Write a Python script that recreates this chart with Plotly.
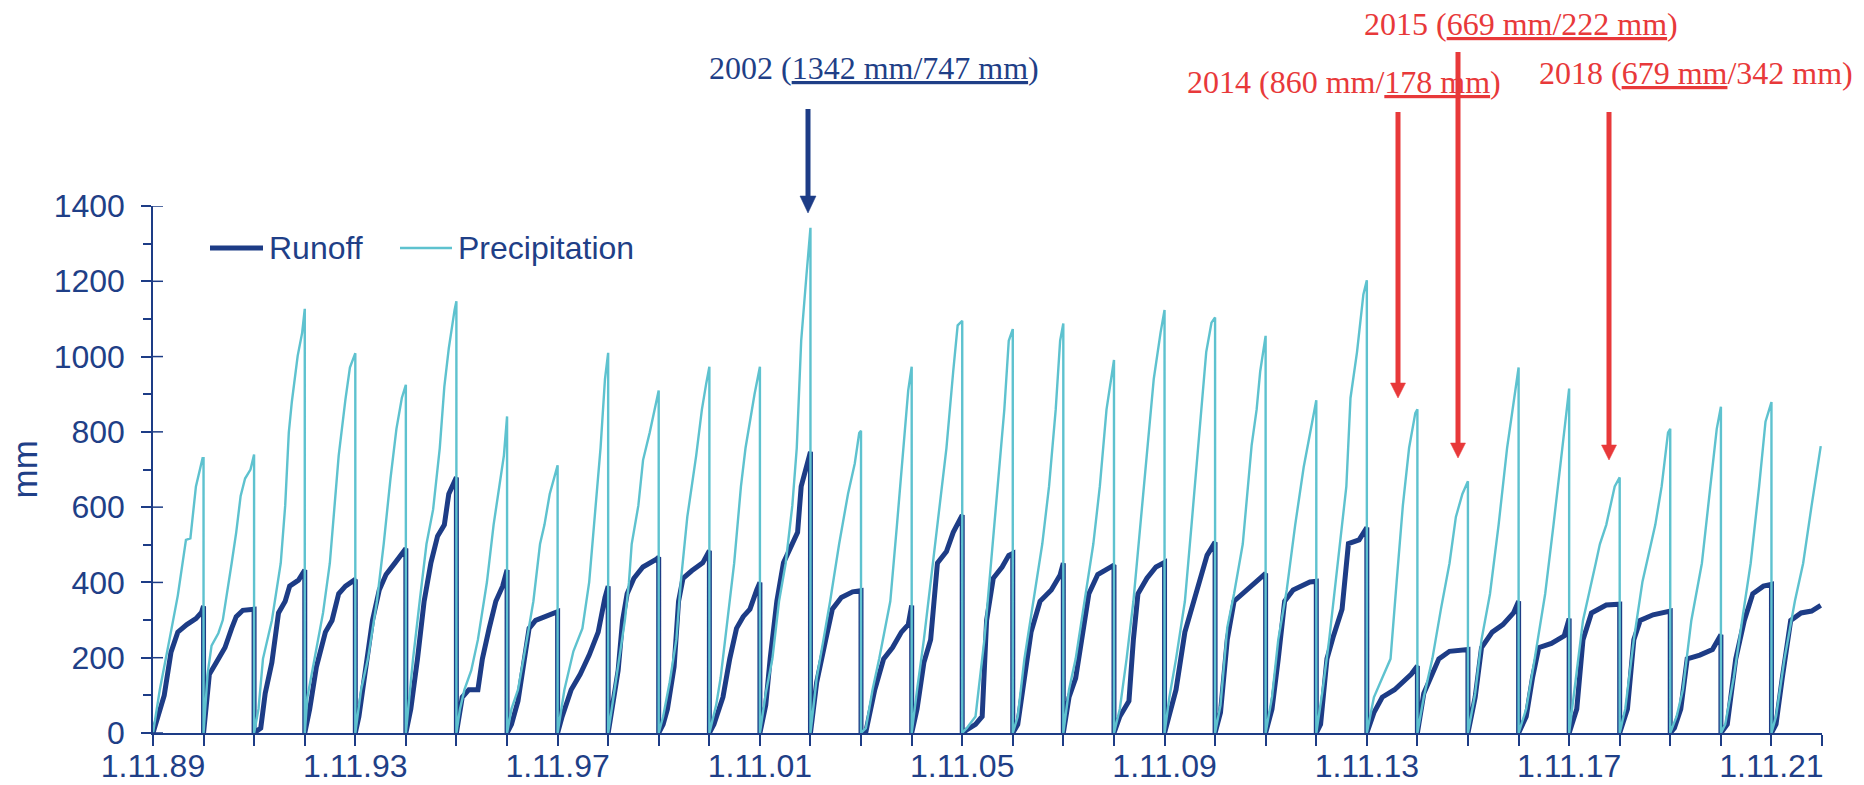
import datetime as dt
import plotly.graph_objects as go

# Hydrological years (1 Nov of the start year to 1 Nov of the next year)
HYDRO_YEARS = list(range(1989, 2022))

# Cumulative precipitation per hydrological year: [day since 1 Nov, mm]
precip_pts = [
    [[0, 0], [49, 115], [124, 258], [179, 365], [238, 513], [270, 517], [310, 655], [336, 696], [358, 730], [365, 730]],
    [[0, 0], [30, 160], [58, 232], [107, 265], [139, 300], [203, 451], [236, 533], [268, 630], [300, 676], [339, 700], [365, 740]],
    [[0, 0], [32, 64], [64, 197], [128, 299], [192, 451], [224, 604], [250, 798], [272, 880], [314, 1002], [346, 1063], [365, 1127]],
    [[0, 0], [19, 95], [68, 197], [132, 319], [181, 451], [213, 604], [245, 737], [294, 887], [326, 971], [365, 1009]],
    [[0, 0], [42, 115], [91, 197], [156, 350], [205, 502], [254, 676], [297, 808], [336, 890], [365, 925]],
    [[0, 0], [52, 197], [100, 350], [149, 502], [197, 594], [245, 757], [278, 920], [310, 1022], [352, 1124], [365, 1147]],
    [[0, 0], [26, 64], [58, 115], [107, 166], [155, 248], [220, 401], [268, 553], [310, 655], [342, 737], [365, 841]],
    [[0, 0], [32, 64], [79, 115], [143, 248], [190, 350], [238, 502], [270, 553], [308, 635], [349, 690], [365, 711]],
    [[0, 0], [49, 115], [114, 217], [179, 278], [228, 401], [277, 604], [310, 757], [342, 940], [365, 1010]],
    [[0, 0], [60, 146], [121, 300], [150, 400], [170, 502], [218, 604], [252, 725], [300, 798], [345, 870], [365, 910]],
    [[0, 0], [32, 44], [79, 135], [127, 248], [159, 401], [206, 574], [270, 737], [311, 859], [343, 930], [365, 973]],
    [[0, 0], [49, 74], [81, 146], [130, 299], [179, 451], [228, 655], [261, 757], [326, 900], [365, 973]],
    [[0, 0], [42, 105], [90, 197], [138, 350], [186, 451], [234, 604], [266, 757], [298, 1042], [336, 1216], [355, 1287], [365, 1342]],
    [[0, 0], [45, 146], [94, 248], [142, 350], [207, 502], [271, 635], [320, 716], [352, 797], [365, 803]],
    [[0, 0], [35, 13], [83, 115], [131, 197], [211, 350], [259, 553], [307, 757], [340, 910], [365, 973]],
    [[0, 0], [39, 115], [88, 248], [137, 401], [186, 553], [251, 757], [300, 961], [332, 1083], [365, 1095]],
    [[0, 0], [32, 13], [96, 44], [160, 248], [208, 451], [256, 655], [304, 859], [336, 1042], [365, 1073]],
    [[0, 0], [36, 44], [84, 197], [149, 350], [213, 502], [262, 655], [310, 859], [342, 1042], [365, 1088]],
    [[0, 0], [41, 115], [89, 197], [152, 350], [216, 502], [263, 655], [311, 859], [365, 991]],
    [[0, 0], [42, 64], [91, 197], [140, 350], [189, 553], [238, 757], [287, 940], [336, 1063], [365, 1124]],
    [[0, 0], [35, 95], [83, 197], [147, 350], [195, 553], [243, 757], [301, 1012], [339, 1090], [365, 1104]],
    [[0, 0], [39, 74], [88, 280], [137, 370], [200, 502], [264, 764], [300, 859], [326, 961], [365, 1055]],
    [[0, 0], [46, 95], [91, 248], [152, 380], [213, 553], [274, 706], [325, 808], [365, 884]],
    [[0, 0], [46, 115], [93, 248], [155, 451], [217, 655], [247, 890], [294, 1012], [340, 1165], [365, 1203]],
    [[0, 0], [51, 95], [111, 146], [171, 197], [215, 401], [260, 604], [305, 757], [350, 850], [365, 860]],
    [[0, 0], [46, 95], [108, 197], [170, 329], [232, 451], [278, 574], [325, 635], [365, 669]],
    [[0, 0], [52, 105], [98, 248], [159, 370], [221, 553], [282, 757], [343, 910], [365, 971]],
    [[0, 0], [55, 64], [116, 197], [192, 370], [252, 553], [313, 757], [344, 859], [365, 915]],
    [[0, 0], [40, 115], [100, 299], [192, 451], [222, 502], [268, 553], [329, 655], [365, 679]],
    [[0, 0], [40, 64], [102, 248], [164, 401], [257, 553], [303, 655], [349, 798], [365, 808]],
    [[0, 0], [46, 44], [91, 115], [152, 299], [228, 451], [289, 655], [335, 808], [365, 867]],
    [[0, 0], [31, 23], [92, 146], [153, 299], [215, 451], [276, 655], [322, 827], [365, 879]],
    [[0, 0], [33, 44], [94, 197], [169, 350], [229, 451], [290, 604], [335, 706], [356, 762]],
]

# Cumulative runoff per hydrological year: [day since 1 Nov, mm]
runoff_pts = [
    [[0, 0], [49, 60], [81, 100], [130, 215], [179, 268], [244, 288], [310, 304], [350, 320], [365, 337]],
    [[0, 0], [20, 90], [42, 156], [90, 186], [155, 227], [203, 278], [236, 309], [284, 326], [365, 329]],
    [[0, 0], [48, 13], [80, 105], [128, 187], [176, 319], [224, 350], [256, 390], [320, 406], [365, 433]],
    [[0, 0], [36, 64], [84, 176], [149, 268], [197, 299], [245, 370], [294, 390], [365, 408]],
    [[0, 0], [26, 44], [75, 166], [124, 299], [173, 380], [222, 421], [287, 452], [365, 490]],
    [[0, 0], [36, 64], [84, 197], [132, 350], [181, 452], [229, 523], [278, 553], [310, 635], [365, 679]],
    [[0, 0], [42, 95], [90, 115], [155, 115], [187, 197], [236, 278], [284, 350], [333, 390], [365, 433]],
    [[0, 0], [32, 23], [79, 85], [127, 207], [159, 278], [206, 299], [270, 309], [365, 322]],
    [[0, 0], [33, 44], [98, 115], [163, 156], [228, 207], [293, 268], [342, 360], [365, 390]],
    [[0, 0], [23, 60], [72, 166], [104, 299], [137, 370], [186, 411], [251, 441], [349, 462], [365, 467]],
    [[0, 0], [32, 23], [63, 64], [111, 176], [143, 350], [175, 411], [238, 431], [317, 452], [365, 484]],
    [[0, 0], [33, 23], [98, 95], [147, 197], [196, 278], [244, 309], [293, 329], [342, 380], [365, 400]],
    [[0, 0], [42, 74], [74, 197], [122, 350], [170, 452], [234, 503], [272, 533], [298, 655], [346, 718], [365, 747]],
    [[0, 0], [45, 135], [110, 248], [158, 329], [223, 360], [304, 375], [365, 378]],
    [[0, 0], [35, 3], [99, 115], [163, 197], [227, 227], [291, 268], [340, 288], [365, 339]],
    [[0, 0], [39, 64], [88, 187], [137, 248], [186, 452], [251, 482], [300, 533], [365, 579]],
    [[0, 0], [32, 8], [96, 23], [144, 44], [176, 299], [224, 411], [288, 441], [336, 472], [365, 477]],
    [[0, 0], [36, 23], [84, 146], [132, 268], [197, 350], [278, 380], [342, 420], [365, 451]],
    [[0, 0], [41, 95], [89, 146], [136, 248], [184, 370], [248, 421], [311, 436], [365, 446]],
    [[0, 0], [42, 44], [108, 85], [140, 248], [173, 370], [238, 411], [303, 441], [365, 453]],
    [[0, 0], [35, 44], [83, 115], [147, 268], [195, 329], [259, 400], [307, 472], [365, 507]],
    [[0, 0], [39, 54], [88, 248], [137, 350], [200, 370], [264, 390], [365, 424]],
    [[0, 0], [46, 64], [91, 197], [137, 350], [198, 380], [319, 401], [365, 403]],
    [[0, 0], [31, 23], [77, 197], [124, 258], [186, 329], [232, 503], [309, 513], [365, 546]],
    [[0, 0], [51, 54], [111, 95], [200, 115], [260, 135], [320, 156], [365, 178]],
    [[0, 0], [46, 105], [93, 146], [155, 197], [232, 217], [325, 220], [365, 222]],
    [[0, 0], [52, 95], [98, 227], [175, 268], [252, 288], [328, 319], [365, 350]],
    [[0, 0], [55, 44], [100, 146], [146, 227], [237, 238], [329, 258], [365, 304]],
    [[0, 0], [55, 64], [100, 248], [161, 319], [268, 340], [365, 342]],
    [[0, 0], [56, 64], [102, 248], [148, 299], [241, 314], [365, 324]],
    [[0, 0], [30, 13], [76, 64], [122, 197], [213, 207], [304, 222], [365, 261]],
    [[0, 0], [46, 23], [107, 197], [169, 299], [230, 370], [307, 390], [365, 395]],
    [[0, 0], [33, 23], [78, 146], [139, 299], [214, 319], [290, 324], [356, 339]],
]

# Axis ticks
Y_MAJOR = list(range(0, 1401, 200))
X_TICK_YEARS = list(range(1989, 2023))

NAVY = "#1D3C86"
TEAL = "#5EC2CF"
RED = "#E8393A"
TEXT_NAVY = "#1F3F87"

W, H = 1864, 785
ML, MR, MT, MB = 153, 42, 206, 52
PW, PH = W - ML - MR, H - MT - MB


def px(x):
    return (x - ML) / PW


def py(y):
    return (H - MB - y) / PH


def build_series(points_by_year):
    xs, ys = [], []
    for i, (year, pts) in enumerate(zip(HYDRO_YEARS, points_by_year)):
        start = dt.datetime(year, 11, 1)
        end = dt.datetime(year + 1, 11, 1)
        span = end - start
        for d, v in pts:
            xs.append(start + span * (d / 365))
            ys.append(v)
        if i < len(HYDRO_YEARS) - 1:
            # reset to zero at the start of the next hydrological year
            xs.append(end)
            ys.append(0)
    return xs, ys


rx, ry = build_series(runoff_pts)
prx, pry = build_series(precip_pts)

fig = go.Figure()
fig.add_trace(go.Scatter(x=rx, y=ry, mode="lines", name="Runoff",
                         line=dict(color=NAVY, width=5), showlegend=False))
fig.add_trace(go.Scatter(x=prx, y=pry, mode="lines", name="Precipitation",
                         line=dict(color=TEAL, width=2.4), showlegend=False))

tick_font = dict(family="Liberation Sans, Arial, sans-serif", size=32, color=TEXT_NAVY)

fig.update_xaxes(
    type="date",
    range=[dt.datetime(1989, 11, 1), dt.datetime(2022, 11, 1)],
    tickvals=[dt.datetime(y, 11, 1) for y in X_TICK_YEARS],
    ticktext=[f"1.11.{y % 100:02d}" if (y - 1989) % 4 == 0 else "" for y in X_TICK_YEARS],
    ticks="outside", ticklen=11, tickwidth=1.5, tickcolor=NAVY,
    showline=True, linecolor=NAVY, linewidth=1.5,
    showgrid=False, zeroline=False, automargin=False,
    tickfont=tick_font, ticklabelstandoff=-7,
)
fig.update_yaxes(
    range=[0, 1400], tickvals=Y_MAJOR,
    ticks="outside", ticklen=10, tickwidth=1.5, tickcolor=NAVY,
    minor=dict(ticks="outside", ticklen=8, dtick=100, tickwidth=1.5, tickcolor=NAVY),
    showline=True, linecolor=NAVY, linewidth=1.5,
    showgrid=False, zeroline=False, automargin=False,
    tickfont=tick_font, ticklabelstandoff=10,
)

shapes = []
# inner half of the major y ticks (they cross the axis line)
for v in Y_MAJOR:
    shapes.append(dict(type="line", xref="paper", yref="y", x0=0, x1=10 / PW, y0=v, y1=v,
                       line=dict(color=NAVY, width=1.5)))
# legend keys
shapes.append(dict(type="line", xref="paper", yref="paper", x0=px(210), x1=px(263), y0=py(248), y1=py(248),
                   line=dict(color=NAVY, width=5)))
shapes.append(dict(type="line", xref="paper", yref="paper", x0=px(400), x1=px(452), y0=py(248), y1=py(248),
                   line=dict(color=TEAL, width=2.5)))

# arrows: (x, tail y, tip y, head length, head half-width, colour) in pixels
arrow_specs = [
    (808, 109, 213, 17, 8, NAVY),
    (1398, 112, 398, 15, 7.5, RED),
    (1458, 52, 458, 15, 7.5, RED),
    (1609, 112, 460, 15, 7.5, RED),
]
for x, y_tail, y_tip, hl, hw, col in arrow_specs:
    base = y_tip - hl
    shapes.append(dict(type="line", xref="paper", yref="paper",
                       x0=px(x), x1=px(x), y0=py(y_tail), y1=py(base + 1),
                       line=dict(color=col, width=5)))
    shapes.append(dict(type="path", xref="paper", yref="paper",
                       path=(f"M {px(x - hw)},{py(base)} L {px(x + hw)},{py(base)} "
                             f"L {px(x)},{py(y_tip)} Z"),
                       fillcolor=col, line=dict(color=col, width=0.5)))

annotations = []
legend_font = dict(family="Liberation Sans, Arial, sans-serif", size=32, color=TEXT_NAVY)
annotations.append(dict(text="Runoff", xref="paper", yref="paper", x=px(267), y=py(248),
                        xanchor="left", yanchor="middle", showarrow=False, font=legend_font))
annotations.append(dict(text="Precipitation", xref="paper", yref="paper", x=px(456), y=py(248),
                        xanchor="left", yanchor="middle", showarrow=False, font=legend_font))
annotations.append(dict(text="mm", xref="paper", yref="paper", x=px(24), y=0.5, textangle=-90,
                        xanchor="center", yanchor="middle", showarrow=False,
                        font=dict(family="Liberation Sans, Arial, sans-serif", size=35, color=TEXT_NAVY)))


def totals(end_year):
    i = HYDRO_YEARS.index(end_year - 1)
    return precip_pts[i][-1][1], runoff_pts[i][-1][1]


serif = "Liberation Serif, Times New Roman, serif"
label_specs = []
p, r = totals(2002)
label_specs.append((f"2002 (<u>{p} mm/{r} mm</u>)", 707, 68, TEXT_NAVY))
p, r = totals(2014)
label_specs.append((f"2014 ({p} mm/<u>{r} mm</u>)", 1185, 82, RED))
p, r = totals(2015)
label_specs.append((f"2015 (<u>{p} mm/{r} mm</u>)", 1362, 24, RED))
p, r = totals(2018)
label_specs.append((f"2018 (<u>{p} mm</u>/{r} mm)", 1537, 73, RED))

for text, x0, yc, col in label_specs:
    annotations.append(dict(text=text, xref="paper", yref="paper", x=px(x0), y=py(yc),
                            xanchor="left", yanchor="middle", showarrow=False,
                            font=dict(family=serif, size=32, color=col)))

fig.update_layout(
    width=W, height=H,
    margin=dict(l=ML, r=MR, t=MT, b=MB, pad=0, autoexpand=False),
    paper_bgcolor="white", plot_bgcolor="white",
    shapes=shapes, annotations=annotations,
    showlegend=False,
)

fig.write_html("out.html")
